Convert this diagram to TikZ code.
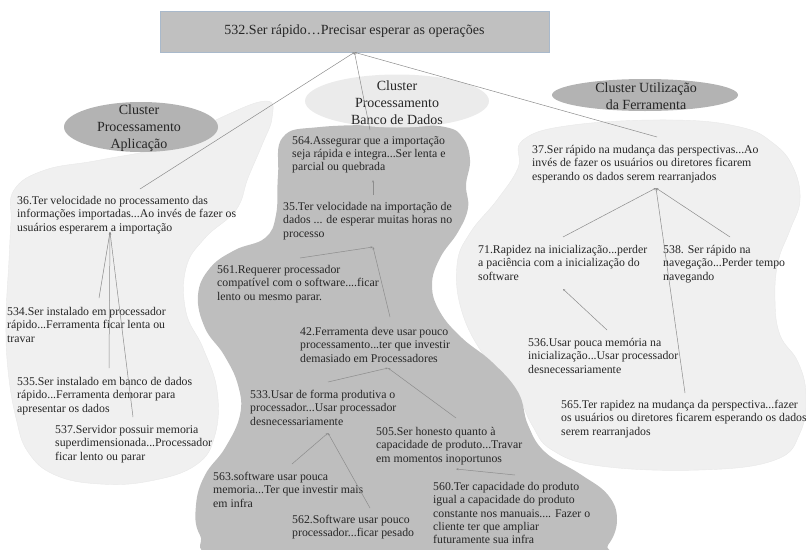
\documentclass[tikz,border=0pt]{standalone}
\usepackage{fontspec}
\setmainfont{Liberation Serif}
\usetikzlibrary{arrows.meta, shapes.geometric}
\definecolor{rootfill}{HTML}{C0C0C0}
\definecolor{rootedge}{HTML}{A9B9CB}
\definecolor{darkblob}{HTML}{BEBEBE}
\definecolor{lightblob}{HTML}{F0F0F0}
\definecolor{clusterdark}{HTML}{B3B3B3}
\definecolor{clusterlight}{HTML}{EBEBEB}
\definecolor{inktext}{HTML}{262626}
\definecolor{linkgray}{HTML}{8C8C8C}
\tikzset{
  rootbox/.style={rectangle, draw=rootedge, fill=rootfill, line width=0.6pt,
    minimum width=389pt, minimum height=41pt, text=inktext,
    font=\fontsize{14}{16}\selectfont},
  cause/.style={anchor=north west, inner sep=0pt, align=left, text=inktext,
    font=\fontsize{11.8}{13.4}\selectfont},
  clusterbg/.style={ellipse, inner sep=0pt},
  clusterlbl/.style={inner sep=0pt, align=center, text=inktext,
    font=\fontsize{14}{16.8}\selectfont},
  blobL/.style={fill=lightblob, draw=gray!18, line width=0.4pt},
  blobD/.style={fill=darkblob},
  link/.style={-{Stealth[length=2.5pt, width=2pt]}, draw=linkgray, line width=0.5pt},
}

\begin{document}
\begin{tikzpicture}[x=1pt, y=-1pt]
\useasboundingbox (0,0) rectangle (806,549);

% cluster areas
\path[blobL] plot[smooth cycle, tension=0.7] coordinates {
  (14,190) (45,170) (100,160) (170,145) (220,118) (266,101) (272,118) (262,145)
  (248,178) (236,210) (205,238) (186,268) (186,312) (203,348) (217,390) (215,435)
  (196,465) (150,481) (100,484) (55,475) (28,452) (16,418) (8,370) (6,320)
  (9,260) (11,222)};
\path[blobL] plot[smooth cycle, tension=0.7] coordinates {
  (523,140) (573,125) (673,120) (740,127) (773,143) (793,167) (800,200) (790,230)
  (778,262) (775,300) (780,335) (798,362) (806,395) (800,433) (775,460) (700,470)
  (600,466) (552,450) (532,425) (515,390) (485,357) (462,312) (457,265) (470,233)
  (497,200) (518,168)};
\path[blobD] plot[smooth cycle, tension=0.7] coordinates {
  (283,137) (320,127) (400,125) (445,127) (463,138) (470,160) (466,185) (468,208)
  (458,232) (440,258) (432,285) (440,312) (462,338) (492,362) (518,392) (528,425)
  (545,452) (580,474) (608,495) (617,520) (608,545) (590,556) (400,558) (225,556)
  (200,535) (196,505) (205,475) (225,448) (240,415) (238,385) (224,355) (205,328)
  (198,295) (210,268) (235,250) (265,238) (276,215) (278,175)};

% cluster labels
\node[clusterbg, fill=clusterdark, minimum width=154pt, minimum height=50pt] (clAppBg) at (141,127) {};
\node[clusterlbl] (clApp) at (139,128) {Cluster\\Processamento\\Aplicação};
\node[clusterbg, fill=clusterlight, minimum width=184pt, minimum height=53pt] (clDbBg) at (397,101) {};
\node[clusterlbl] (clDb) at (397,103) {Cluster\\Processamento\\Banco de Dados};
\node[clusterbg, fill=clusterdark, minimum width=186pt, minimum height=32pt] (clUseBg) at (645,95) {};
\node[clusterlbl] (clUse) at (646,96) {Cluster Utilização\\da Ferramenta};

\node[rootbox] (root) at (354.5,31.5) {532.Ser rápido…Precisar esperar as operações};

% processamento aplicacao
\node[cause] (c36) at (17,196) {36.Ter velocidade no processamento das\\informações importadas...Ao invés de fazer os\\usuários esperarem  a importação};
\node[cause] (c534) at (7,307) {534.Ser instalado em processador\\rápido...Ferramenta ficar lenta ou\\travar};
\node[cause] (c535) at (17,377) {535.Ser instalado em banco de dados\\rápido...Ferramenta demorar para\\apresentar os dados};
\node[cause] (c537) at (55,425) {537.Servidor possuir memoria\\superdimensionada...Processador\\ficar lento ou parar};

% processamento banco de dados
\node[cause] (c564) at (292,136) {564.Assegurar que a importação\\seja rápida e integra...Ser lenta e\\parcial ou quebrada};
\node[cause] (c35) at (283,202) {35.Ter velocidade na importação de\\dados ... de esperar muitas horas no\\processo};
\node[cause] (c561) at (217,265) {561.Requerer processador\\compatível com o software....ficar\\lento ou mesmo parar.};
\node[cause] (c42) at (300,327) {42.Ferramenta deve usar pouco\\processamento...ter que investir\\demasiado em Processadores};
\node[cause] (c533) at (250,390) {533.Usar de forma produtiva o\\processador...Usar processador\\desnecessariamente};
\node[cause] (c505) at (376,427) {505.Ser honesto quanto à\\capacidade de produto...Travar\\em momentos inoportunos};
\node[cause] (c563) at (213,472) {563.software usar pouca\\memoria...Ter que investir mais\\em infra};
\node[cause] (c562) at (292,515) {562.Software usar pouco\\processador...ficar pesado};
\node[cause] (c560) at (433,482) {560.Ter capacidade do produto\\igual a capacidade do produto\\constante nos manuais.... Fazer o\\cliente ter que ampliar\\futuramente sua infra};

% utilizacao da ferramenta
\node[cause] (c37) at (532,145) {37.Ser rápido na mudança das perspectivas...Ao\\invés de fazer os usuários ou diretores ficarem\\esperando os dados serem rearranjados};
\node[cause] (c71) at (478,245) {71.Rapidez na inicialização...perder\\a paciência com a inicialização do\\software};
\node[cause] (c538) at (663,245) {538. Ser rápido na\\navegação...Perder tempo\\navegando};
\node[cause] (c536) at (528,338) {536.Usar pouca memória na\\inicialização...Usar processador\\desnecessariamente};
\node[cause] (c565) at (561,400) {565.Ter rapidez na mudança da perspectiva...fazer\\os usuários ou diretores ficarem esperando os dados\\serem rearranjados};

% junctions
\coordinate (h36) at (110,232);
\coordinate (h564) at (373,180);
\coordinate (h35) at (373,247);
\coordinate (h42) at (388,368);
\coordinate (h533) at (328,433);
\coordinate (h505) at (456,469);
\coordinate (h37) at (656,188);
\coordinate (h71) at (563,289);

% links
\draw[link] ([shift={(123,-7)}]c36.north west) -- (root.south);
\draw[link] ([shift={(78,-6)}]c564.north west) -- (root.south);
\draw[link] ([shift={(125,-8)}]c37.north west) -- (root.south);

\draw[link] ([shift={(92,-9)}]c534.north west) -- (h36);
\draw[link] ([shift={(92,-9)}]c535.north west) -- (h36);
\draw[link] ([shift={(78,-8)}]c537.north west) -- (h36);

\draw[link] ([shift={(90,-7)}]c35.north west) -- (h564);
\draw[link] ([shift={(83,-7)}]c561.north west) -- (h35);
\draw[link] ([shift={(90,-10)}]c42.north west) -- (h35);
\draw[link] ([shift={(78,-8)}]c533.north west) -- (h42);
\draw[link] ([shift={(80,-9)}]c505.north west) -- (h42);
\draw[link] ([shift={(79,-8)}]c563.north west) -- (h533);
\draw[link] ([shift={(78,-7)}]c562.north west) -- (h533);
\draw[link] ([shift={(82,-7)}]c560.north west) -- (h505);

\draw[link] ([shift={(85,-8)}]c71.north west) -- (h37);
\draw[link] ([shift={(67,-8)}]c538.north west) -- (h37);
\draw[link] ([shift={(124,-7)}]c565.north west) -- (h37);
\draw[link] ([shift={(79,-8)}]c536.north west) -- (h71);
\end{tikzpicture}
\end{document}
